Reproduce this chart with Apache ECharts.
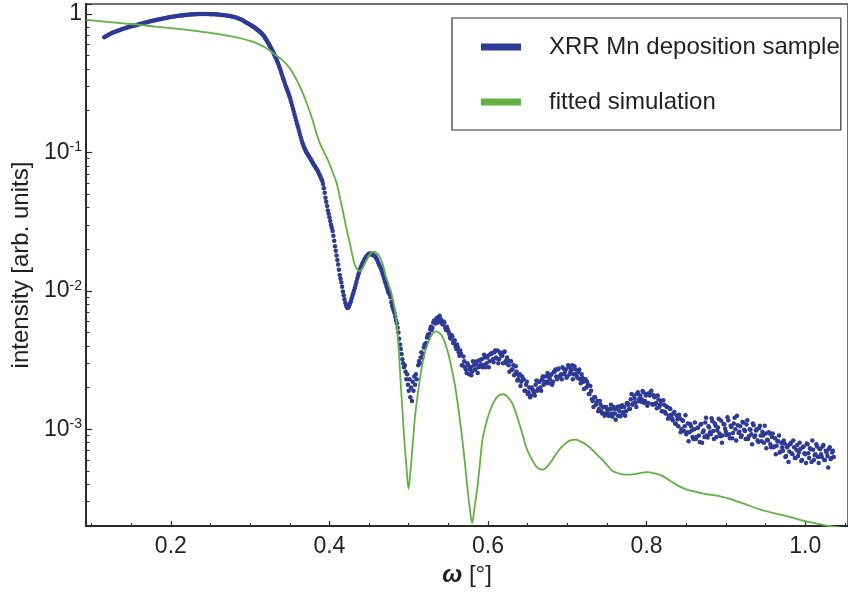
<!DOCTYPE html>
<html>
<head>
<meta charset="utf-8">
<script src="https://cdn.jsdelivr.net/npm/echarts@6/dist/echarts.min.js"></script>
<style>html,body{margin:0;padding:0;background:#fff}#c{width:848px;height:592px}</style>
</head>
<body>
<div id="c"></div>
<script>
// measured XRR scan: [omega (deg), intensity (arb. units)]
const xrrScan = [
[0.116,0.68],[0.118,0.69],[0.120,0.70],[0.122,0.71],[0.124,0.72],[0.126,0.73],[0.128,0.737],[0.130,0.745],[0.132,0.752],[0.134,0.76],
[0.136,0.767],[0.138,0.774],[0.140,0.781],[0.142,0.788],[0.144,0.795],[0.146,0.802],[0.148,0.809],[0.150,0.815],[0.152,0.82],[0.154,0.825],
[0.156,0.830],[0.158,0.836],[0.160,0.842],[0.162,0.848],[0.164,0.854],[0.166,0.860],[0.168,0.866],[0.170,0.872],[0.172,0.878],[0.174,0.884],
[0.176,0.890],[0.178,0.896],[0.180,0.901],[0.182,0.906],[0.184,0.911],[0.186,0.916],[0.188,0.921],[0.190,0.926],[0.192,0.931],[0.194,0.936],
[0.196,0.941],[0.198,0.946],[0.200,0.950],[0.202,0.954],[0.204,0.958],[0.206,0.962],[0.208,0.966],[0.210,0.970],[0.212,0.973],[0.214,0.976],
[0.216,0.979],[0.218,0.982],[0.220,0.985],[0.222,0.988],[0.224,0.990],[0.226,0.992],[0.228,0.994],[0.230,0.996],[0.232,0.997],[0.234,0.998],
[0.236,0.999],[0.238,1.0],[0.240,1.0],[0.242,1.0],[0.244,1.0],[0.246,0.999],[0.248,0.998],[0.250,0.997],[0.252,0.996],[0.254,0.995],
[0.256,0.993],[0.258,0.991],[0.260,0.989],[0.262,0.987],[0.264,0.984],[0.266,0.981],[0.268,0.978],[0.270,0.976],[0.272,0.972],[0.274,0.967],
[0.276,0.962],[0.278,0.956],[0.280,0.949],[0.282,0.942],[0.284,0.934],[0.286,0.925],[0.288,0.914],[0.290,0.903],[0.292,0.890],[0.294,0.875],
[0.296,0.862],[0.298,0.848],[0.300,0.835],[0.302,0.822],[0.304,0.808],[0.306,0.794],[0.308,0.778],[0.310,0.762],[0.312,0.746],[0.314,0.728],
[0.316,0.708],[0.318,0.684],[0.320,0.657],[0.322,0.628],[0.324,0.600],[0.326,0.572],[0.328,0.545],[0.330,0.515],[0.332,0.487],[0.334,0.458],
[0.336,0.428],[0.338,0.397],[0.340,0.365],[0.342,0.338],[0.344,0.312],[0.346,0.290],[0.348,0.270],[0.350,0.250],[0.352,0.228],[0.354,0.207],
[0.356,0.188],[0.357,0.179],[0.358,0.170],[0.359,0.162],[0.360,0.155],[0.361,0.148],[0.362,0.141],[0.363,0.134],[0.364,0.128],[0.365,0.122],
[0.366,0.117],[0.367,0.113],[0.368,0.109],[0.369,0.106],[0.370,0.103],[0.371,0.100],[0.372,0.098],[0.373,0.096],[0.374,0.094],[0.375,0.092],
[0.376,0.090],[0.377,0.088],[0.378,0.086],[0.379,0.084],[0.380,0.082],[0.381,0.0805],[0.382,0.079],[0.383,0.077],[0.384,0.0755],[0.385,0.074],
[0.386,0.072],[0.387,0.070],[0.388,0.068],[0.389,0.066],[0.390,0.064],[0.391,0.062],[0.392,0.059],[0.393,0.055],[0.394,0.051],[0.395,0.047],
[0.396,0.044],[0.397,0.041],[0.398,0.038],[0.399,0.036],[0.400,0.034],[0.401,0.032],[0.402,0.030],[0.403,0.0285],[0.404,0.027],[0.405,0.025],
[0.406,0.023],[0.407,0.021],[0.408,0.0195],[0.409,0.018],[0.410,0.0167],[0.411,0.0155],[0.412,0.0142],[0.413,0.013],[0.414,0.0122],[0.415,0.0115],
[0.416,0.0107],[0.417,0.0099],[0.418,0.0093],[0.419,0.0087],[0.420,0.0082],[0.421,0.0079],[0.422,0.0076],[0.423,0.0075],[0.424,0.0076],[0.425,0.0078],
[0.426,0.0081],[0.427,0.0084],[0.428,0.0088],[0.429,0.0092],[0.430,0.0096],[0.431,0.0100],[0.432,0.0105],[0.433,0.0110],[0.434,0.0116],[0.435,0.0122],
[0.436,0.0128],[0.437,0.0134],[0.438,0.0140],[0.439,0.0145],[0.440,0.0150],[0.441,0.0155],[0.442,0.0159],[0.443,0.0163],[0.444,0.0167],[0.445,0.0171],
[0.446,0.0175],[0.447,0.0178],[0.448,0.0181],[0.449,0.0183],[0.450,0.0185],[0.451,0.0184],[0.452,0.0186],[0.453,0.0183],[0.454,0.0185],[0.455,0.0182],
[0.456,0.0180],[0.457,0.0179],[0.458,0.0176],[0.459,0.0172],[0.460,0.0168],[0.461,0.0163],[0.462,0.0158],[0.463,0.0153],[0.464,0.0149],[0.465,0.0145],
[0.466,0.0139],[0.467,0.0133],[0.468,0.0128],[0.469,0.0122],[0.470,0.0117],[0.471,0.0113],[0.472,0.0108],[0.473,0.0103],[0.474,0.0099],[0.475,0.0096],
[0.476,0.0094],[0.477,0.0090],[0.478,0.0083],[0.479,0.0078],[0.480,0.0075],[0.481,0.0072],[0.482,0.0069],[0.483,0.0065],[0.484,0.0061],[0.485,0.0058],
[0.486,0.0054],[0.487,0.0050],[0.488,0.0045],[0.489,0.0041],[0.490,0.0038],[0.491,0.0035],[0.492,0.0032],[0.493,0.0030],[0.494,0.0028],[0.495,0.0029],
[0.496,0.0026],[0.497,0.0023],[0.498,0.0025],[0.499,0.0021],[0.500,0.0019],[0.501,0.0023],[0.502,0.0017],[0.503,0.0020],[0.504,0.0016],[0.505,0.0022],
[0.506,0.0019],[0.507,0.0024],[0.508,0.0021],[0.509,0.0025],[0.510,0.0023],
[0.512,2.9e-3],[0.514,3.0e-3],[0.516,3.6e-3],[0.518,3.5e-3],[0.520,4.1e-3],[0.522,4.2e-3],[0.524,4.8e-3],[0.526,4.9e-3],[0.528,5.5e-3],[0.530,5.4e-3],
[0.532,6.1e-3],[0.534,5.8e-3],[0.536,6.4e-3],[0.538,6.0e-3],[0.540,6.3e-3],[0.542,5.8e-3],[0.544,6.0e-3],[0.546,5.4e-3],[0.548,5.5e-3],[0.550,5.1e-3],
[0.552,4.6e-3],[0.554,4.8e-3],[0.556,4.2e-3],[0.558,4.4e-3],[0.560,3.8e-3],[0.562,3.9e-3],[0.564,3.4e-3],[0.566,3.5e-3],[0.568,2.9e-3],[0.570,3.1e-3],
[0.572,2.7e-3],[0.574,3.0e-3],[0.576,2.5e-3],[0.578,2.8e-3],[0.580,2.6e-3],[0.582,2.9e-3],[0.584,2.7e-3],[0.586,3.1e-3],[0.588,2.8e-3],[0.590,2.9e-3],
[0.592,3.2e-3],[0.594,2.9e-3],[0.596,3.3e-3],[0.598,3.0e-3],[0.600,3.4e-3],[0.602,3.1e-3],[0.604,3.5e-3],[0.606,3.2e-3],[0.608,3.6e-3],[0.610,3.3e-3],
[0.612,3.7e-3],[0.614,3.2e-3],[0.616,3.5e-3],[0.618,3.4e-3],[0.620,3.6e-3],[0.622,3.1e-3],[0.624,3.3e-3],[0.626,2.9e-3],[0.628,3.1e-3],[0.630,2.7e-3],
[0.632,2.9e-3],[0.634,2.5e-3],[0.636,2.6e-3],[0.638,2.3e-3],[0.640,2.5e-3],[0.642,2.2e-3],[0.644,2.3e-3],[0.646,1.9e-3],[0.648,2.1e-3],[0.650,1.8e-3],
[0.652,2.0e-3],[0.654,1.75e-3],[0.656,1.95e-3],[0.658,1.85e-3],[0.660,2.1e-3],[0.662,1.9e-3],[0.664,2.2e-3],[0.666,2.0e-3],[0.668,2.3e-3],[0.670,2.1e-3],
[0.672,2.4e-3],[0.674,2.2e-3],[0.676,2.4e-3],[0.678,2.3e-3],[0.680,2.5e-3],[0.682,2.2e-3],[0.684,2.6e-3],[0.686,2.4e-3],[0.688,2.7e-3],[0.690,2.4e-3],
[0.692,2.5e-3],[0.694,2.8e-3],[0.696,2.5e-3],[0.698,2.7e-3],[0.700,2.4e-3],[0.702,2.8e-3],[0.704,2.6e-3],[0.706,2.9e-3],[0.708,2.5e-3],[0.710,2.7e-3],
[0.712,2.4e-3],[0.714,2.6e-3],[0.716,2.3e-3],[0.718,2.5e-3],[0.720,2.2e-3],[0.722,2.3e-3],[0.724,2.0e-3],[0.726,2.1e-3],[0.728,1.8e-3],[0.730,1.9e-3],
[0.732,1.6e-3],[0.734,1.7e-3],[0.736,1.5e-3],[0.738,1.6e-3],[0.740,1.4e-3],[0.742,1.5e-3],[0.744,1.3e-3],[0.746,1.45e-3],[0.748,1.3e-3],[0.750,1.4e-3],
[0.752,1.25e-3],[0.754,1.4e-3],[0.756,1.3e-3],[0.758,1.45e-3],[0.760,1.3e-3],[0.762,1.4e-3],[0.764,1.25e-3],[0.766,1.35e-3],[0.768,1.45e-3],[0.770,1.3e-3],
[0.772,1.45e-3],[0.774,1.35e-3],[0.776,1.55e-3],[0.778,1.4e-3],[0.780,1.65e-3],[0.782,1.5e-3],[0.784,1.75e-3],[0.786,1.55e-3],[0.788,1.8e-3],[0.790,1.6e-3],
[0.792,1.75e-3],[0.794,1.65e-3],[0.796,1.85e-3],[0.798,1.6e-3],[0.800,1.8e-3],[0.802,1.55e-3],[0.804,1.75e-3],[0.806,1.9e-3],[0.808,1.5e-3],[0.810,1.7e-3],
[0.812,1.55e-3],[0.814,1.75e-3],[0.816,1.45e-3],[0.818,1.6e-3],[0.820,1.35e-3],[0.822,1.5e-3],[0.824,1.3e-3],[0.826,1.45e-3],[0.828,1.25e-3],[0.830,1.4e-3],
[0.832,1.2e-3],[0.834,1.3e-3],[0.836,1.1e-3],[0.838,1.25e-3],[0.840,1.05e-3],[0.842,1.2e-3],[0.844,1.0e-3],[0.846,1.15e-3],[0.848,1.05e-3],[0.850,0.92e-3],
[0.852,1.1e-3],[0.854,0.95e-3],[0.856,1.05e-3],[0.858,0.88e-3],[0.860,1.0e-3],[0.862,0.85e-3],[0.864,1.02e-3],[0.866,0.9e-3],[0.868,1.08e-3],[0.870,0.8e-3],
[0.872,0.98e-3],[0.874,1.12e-3],[0.876,0.9e-3],[0.878,1.05e-3],[0.880,0.95e-3],[0.882,1.2e-3],[0.884,0.97e-3],[0.886,1.1e-3],[0.888,0.88e-3],[0.890,1.03e-3],
[0.892,0.93e-3],[0.894,1.15e-3],[0.896,0.9e-3],[0.898,1.08e-3],[0.900,0.96e-3],[0.902,1.22e-3],[0.904,0.92e-3],[0.906,1.06e-3],[0.908,0.86e-3],[0.910,1.1e-3],
[0.912,1.0e-3],[0.914,1.25e-3],[0.916,0.94e-3],[0.918,1.05e-3],[0.920,0.9e-3],[0.922,1.12e-3],[0.924,0.97e-3],[0.926,1.08e-3],[0.928,0.85e-3],[0.930,1.0e-3],
[0.932,0.92e-3],[0.934,1.1e-3],[0.936,0.88e-3],[0.938,0.98e-3],[0.940,0.83e-3],[0.942,1.02e-3],[0.944,0.9e-3],[0.946,0.96e-3],[0.948,0.8e-3],[0.950,0.93e-3],
[0.952,0.84e-3],[0.954,0.95e-3],[0.956,0.78e-3],[0.958,0.88e-3],[0.960,0.74e-3],[0.962,0.86e-3],[0.964,0.76e-3],[0.966,0.82e-3],[0.968,0.68e-3],[0.970,0.8e-3],
[0.972,0.7e-3],[0.974,0.79e-3],[0.976,0.64e-3],[0.978,0.76e-3],[0.980,0.69e-3],[0.982,0.8e-3],[0.984,0.66e-3],[0.986,0.74e-3],[0.988,0.62e-3],[0.990,0.77e-3],
[0.992,0.68e-3],[0.994,0.72e-3],[0.996,0.6e-3],[0.998,0.75e-3],[1.000,0.66e-3],[1.002,0.79e-3],[1.004,0.67e-3],[1.006,0.73e-3],[1.008,0.58e-3],[1.010,0.71e-3],
[1.012,0.65e-3],[1.014,0.78e-3],[1.016,0.63e-3],[1.018,0.72e-3],[1.020,0.66e-3],[1.022,0.75e-3],[1.024,0.6e-3],[1.026,0.7e-3],[1.028,0.64e-3],[1.030,0.72e-3],
[1.032,0.61e-3],[1.034,0.68e-3],[1.036,0.63e-3]
];

// interleaved scan points (half-step positions) of the same measurement
const xrrScanInterleaved = [
[0.301,0.828],[0.303,0.815],[0.305,0.801],[0.307,0.786],[0.309,0.770],[0.311,0.754],[0.313,0.737],[0.315,0.718],[0.317,0.696],[0.319,0.670],
[0.321,0.642],[0.323,0.614],[0.325,0.586],[0.327,0.558],[0.329,0.530],[0.331,0.501],[0.333,0.472],[0.335,0.443],[0.337,0.412],[0.339,0.381],
[0.341,0.351],[0.343,0.325],[0.345,0.301],[0.347,0.280],[0.349,0.260],[0.351,0.239],[0.353,0.217],[0.355,0.197],
[0.513,3.1e-3],[0.515,3.3e-3],[0.517,3.3e-3],[0.519,3.9e-3],[0.521,4.0e-3],[0.523,4.6e-3],[0.525,4.6e-3],[0.527,5.3e-3],[0.529,5.2e-3],[0.531,5.9e-3],
[0.533,6.0e-3],[0.535,6.3e-3],[0.537,5.9e-3],[0.539,6.6e-3],[0.541,6.1e-3],[0.543,5.7e-3],[0.545,5.9e-3],[0.547,5.2e-3],[0.549,5.3e-3],[0.551,4.9e-3],
[0.553,4.5e-3],[0.555,4.7e-3],[0.557,4.3e-3],[0.559,4.0e-3],[0.561,4.1e-3],[0.563,3.6e-3],
[0.565,3.7e-3],[0.567,2.9e-3],[0.569,3.35e-3],[0.571,2.8e-3],[0.573,2.55e-3],[0.575,2.9e-3],[0.577,2.7e-3],[0.579,2.45e-3],[0.581,3.1e-3],[0.583,2.7e-3],
[0.585,2.95e-3],[0.587,2.55e-3],[0.589,3.15e-3],[0.591,2.95e-3],[0.593,2.8e-3],[0.595,3.45e-3],[0.597,2.8e-3],[0.599,3.3e-3],[0.601,2.8e-3],[0.603,3.5e-3],
[0.605,3.55e-3],[0.607,3.05e-3],[0.609,3.7e-3],[0.611,3.25e-3],[0.613,3.0e-3],[0.615,3.6e-3],[0.617,3.4e-3],[0.619,3.0e-3],[0.621,3.65e-3],[0.623,3.0e-3],
[0.625,3.15e-3],[0.627,2.6e-3],[0.629,3.1e-3],[0.631,2.7e-3],[0.633,2.45e-3],[0.635,2.85e-3],[0.637,2.25e-3],[0.639,2.45e-3],[0.641,2.05e-3],[0.643,2.4e-3],
[0.645,2.3e-3],[0.647,1.9e-3],[0.649,2.2e-3],[0.651,1.85e-3],[0.653,1.7e-3],[0.655,2.0e-3],[0.657,1.9e-3],[0.659,1.75e-3],[0.661,2.25e-3],[0.663,1.95e-3],
[0.665,2.2e-3],[0.667,1.9e-3],[0.669,2.4e-3],[0.671,2.2e-3],[0.673,2.15e-3],[0.675,2.55e-3],[0.677,2.15e-3],[0.679,2.45e-3],[0.681,2.1e-3],[0.683,2.6e-3],
[0.685,2.7e-3],[0.687,2.3e-3],[0.689,2.75e-3],[0.691,2.4e-3],[0.693,2.3e-3],[0.695,2.75e-3],[0.697,2.6e-3],[0.699,2.35e-3],[0.701,2.9e-3],[0.703,2.5e-3],
[0.705,2.7e-3],[0.707,2.3e-3],[0.709,2.85e-3],[0.711,2.5e-3],[0.713,2.35e-3],[0.715,2.7e-3],[0.717,2.15e-3],[0.719,2.35e-3],[0.721,1.95e-3],[0.723,2.3e-3],
[0.725,2.2e-3],[0.727,1.8e-3],[0.729,2.05e-3],[0.731,1.65e-3],[0.733,1.45e-3],[0.735,1.7e-3],[0.737,1.55e-3],[0.739,1.35e-3],[0.741,1.6e-3],[0.743,1.35e-3],
[0.745,1.45e-3],[0.747,1.25e-3],[0.749,1.45e-3],[0.751,1.32e-3],[0.753,1.25e-3],[0.755,1.5e-3],[0.757,1.23e-3],[0.759,1.4e-3],[0.761,1.17e-3],[0.763,1.45e-3],
[0.765,1.46e-3],[0.767,1.24e-3],[0.769,1.49e-3],[0.771,1.33e-3],[0.773,1.25e-3],[0.775,1.54e-3],[0.777,1.5e-3],[0.779,1.4e-3],[0.781,1.8e-3],[0.783,1.54e-3],
[0.785,1.66e-3],[0.787,1.45e-3],[0.789,1.85e-3],[0.791,1.67e-3],[0.793,1.58e-3],[0.795,1.89e-3],[0.797,1.55e-3],[0.799,1.75e-3],[0.801,1.48e-3],[0.803,1.82e-3],
[0.805,1.84e-3],[0.807,1.52e-3],[0.809,1.76e-3],[0.811,1.52e-3],[0.813,1.42e-3],[0.815,1.64e-3],[0.817,1.5e-3],[0.819,1.35e-3],[0.821,1.62e-3],[0.823,1.34e-3],
[0.825,1.46e-3],[0.827,1.19e-3],[0.829,1.42e-3],[0.831,1.27e-3],[0.833,1.16e-3],[0.835,1.33e-3],[0.837,1.09e-3],[0.839,1.18e-3],
[0.841,1.27e-3],[0.843,0.95e-3],[0.845,1.16e-3],[0.847,0.97e-3],[0.849,1.26e-3],[0.851,0.95e-3],[0.853,0.82e-3],[0.855,1.09e-3],[0.857,0.98e-3],[0.859,0.85e-3],
[0.861,1.12e-3],[0.863,0.88e-3],[0.865,1.03e-3],[0.867,0.81e-3],[0.869,1.09e-3],[0.871,0.95e-3],[0.873,0.88e-3],[0.875,1.21e-3],[0.877,0.87e-3],[0.879,1.03e-3],
[0.881,0.92e-3],[0.883,1.14e-3],[0.885,0.85e-3],[0.887,1.06e-3],[0.889,0.98e-3],[0.891,1.19e-3],[0.893,0.89e-3],[0.895,0.80e-3],[0.897,1.09e-3],[0.899,1.01e-3],
[0.901,0.91e-3],[0.903,1.16e-3],[0.905,0.86e-3],[0.907,1.04e-3],[0.909,0.94e-3],[0.911,1.21e-3],[0.913,0.83e-3],[0.915,1.07e-3],[0.917,0.96e-3],[0.919,0.88e-3],
[0.921,1.13e-3],[0.923,0.99e-3],[0.925,0.85e-3],[0.927,1.16e-3],[0.929,0.89e-3],[0.931,0.99e-3],[0.933,0.78e-3],[0.935,1.07e-3],[0.937,0.90e-3],[0.939,1.0e-3],
[0.941,0.81e-3],[0.943,1.06e-3],[0.945,0.82e-3],[0.947,0.90e-3],[0.949,1.06e-3],[0.951,0.73e-3],[0.953,0.83e-3],[0.955,0.93e-3],[0.957,0.74e-3],[0.959,0.93e-3],
[0.961,0.75e-3],[0.963,0.66e-3],[0.965,0.82e-3],[0.967,0.90e-3],[0.969,0.69e-3],[0.971,0.74e-3],[0.973,0.83e-3],[0.975,0.63e-3],[0.977,0.74e-3],[0.979,0.58e-3],
[0.981,0.78e-3],[0.983,0.67e-3],[0.985,0.83e-3],[0.987,0.62e-3],[0.989,0.71e-3],[0.991,0.64e-3],[0.993,0.80e-3],[0.995,0.59e-3],[0.997,0.74e-3],[0.999,0.67e-3],
[1.001,0.57e-3],[1.003,0.78e-3],[1.005,0.62e-3],[1.007,0.72e-3],[1.009,0.83e-3],[1.011,0.60e-3],[1.013,0.66e-3],[1.015,0.75e-3],[1.017,0.57e-3],[1.019,0.72e-3],
[1.021,0.63e-3],[1.023,0.77e-3],[1.025,0.60e-3],[1.027,0.68e-3],[1.029,0.53e-3],[1.031,0.74e-3],[1.033,0.62e-3],[1.035,0.70e-3]
];

// fitted simulation curve: [omega (deg), intensity]
const fitCurve = [
[0.093,0.905],[0.10,0.90],[0.12,0.875],[0.14,0.855],[0.16,0.835],[0.18,0.81],[0.20,0.79],[0.22,0.768],[0.24,0.742],[0.26,0.715],
[0.28,0.683],[0.29,0.662],[0.30,0.638],[0.31,0.608],[0.318,0.577],[0.324,0.548],[0.328,0.527],[0.332,0.505],[0.336,0.487],[0.34,0.468],
[0.345,0.44],[0.35,0.405],[0.355,0.365],[0.36,0.322],[0.365,0.28],[0.37,0.238],[0.375,0.198],[0.38,0.162],[0.3832,0.140],[0.386,0.125],
[0.3895,0.111],[0.393,0.101],[0.397,0.091],[0.40,0.083],[0.404,0.072],[0.4084,0.062],[0.412,0.051],[0.4168,0.038],[0.421,0.029],[0.4252,0.0228],
[0.4294,0.0176],[0.4314,0.0158],[0.434,0.0146],[0.4377,0.0139],[0.441,0.0143],[0.446,0.0163],[0.45,0.0180],[0.4535,0.0189],[0.4566,0.0192],[0.46,0.0187],
[0.463,0.0178],[0.466,0.0163],[0.469,0.0143],[0.4713,0.0126],[0.4745,0.0112],[0.4776,0.0099],[0.481,0.0082],[0.484,0.0064],[0.486,0.0049],[0.488,0.0033],
[0.490,0.0021],[0.492,0.0014],[0.4943,0.00086],[0.497,0.00055],[0.4998,0.00037],[0.5025,0.00052],[0.5049,0.00076],[0.508,0.00125],[0.511,0.00172],[0.5145,0.0024],
[0.5175,0.0030],[0.521,0.0037],[0.5258,0.0044],[0.530,0.0049],[0.5342,0.0051],[0.538,0.0050],[0.5425,0.00466],[0.5465,0.0041],[0.5509,0.00334],[0.555,0.0026],
[0.5593,0.00192],[0.5635,0.0013],[0.5676,0.00084],[0.571,0.00056],[0.574,0.00038],[0.577,0.00027],[0.580,0.00021],[0.583,0.00027],[0.5866,0.00038],[0.590,0.00058],
[0.593,0.00084],[0.597,0.00107],[0.6013,0.0013],[0.606,0.00152],[0.610,0.00167],[0.614,0.00176],[0.619,0.00179],[0.624,0.00173],[0.6306,0.00154],[0.637,0.00122],
[0.6432,0.00093],[0.649,0.00072],[0.6558,0.0006],[0.662,0.00053],[0.6692,0.00051],[0.675,0.00054],[0.681,0.0006],[0.688,0.00069],[0.6977,0.00079],[0.704,0.00083],
[0.7103,0.00084],[0.718,0.00081],[0.727,0.00075],[0.737,0.00066],[0.748,0.00057],[0.757,0.0005],[0.765,0.00048],[0.772,0.00047],[0.78,0.00047],[0.79,0.00048],
[0.80,0.00049],[0.81,0.00048],[0.82,0.00046],[0.828,0.00043],[0.84,0.00039],[0.85,0.000368],[0.861,0.000354],[0.875,0.00034],[0.89,0.00033],[0.903,0.000317],
[0.915,0.000300],[0.93,0.00028],[0.945,0.000261],[0.96,0.000248],[0.975,0.000237],[0.987,0.000227],[1.0,0.000217],[1.015,0.000208],[1.03,0.0002],[1.04,0.000196],
[1.054,0.00019]
];

const seriesNames = ['XRR Mn deposition sample', 'fitted simulation'];
const xTitle = '{w|ω} [°]';
const yTitle = 'intensity [arb. units]';

const FONT = '"Liberation Sans", Arial, Helvetica, sans-serif';
const TXT = '#231f20';
const BLUE = '#2e3a95';
const GREEN = '#63b043';

const chart = echarts.init(document.getElementById('c'), null, {renderer: 'canvas'});
chart.setOption({
  animation: false,
  backgroundColor: '#fff',
  textStyle: {fontFamily: FONT, color: TXT},
  grid: {left: 86, top: 4, right: -2, bottom: 66, show: true, borderColor: '#444', borderWidth: 1.5, containLabel: false},
  legend: {
    orient: 'vertical', left: 452, top: 18,
    padding: [17, 1, 16, 29], itemGap: 31, itemWidth: 40, itemHeight: 7,
    borderColor: '#333', borderWidth: 1.2, backgroundColor: '#fff',
    textStyle: {fontSize: 24, color: TXT, fontFamily: FONT, padding: [0, 0, 0, 23]},
    data: [{name: seriesNames[0], icon: 'rect'}, {name: seriesNames[1], icon: 'rect'}]
  },
  xAxis: {
    type: 'value', min: 0.093, max: 1.054,
    name: xTitle, nameLocation: 'middle', nameGap: 35,
    nameTextStyle: {fontSize: 24, color: TXT, fontFamily: FONT, rich: {w: {fontStyle: 'italic', fontWeight: 'bold', fontSize: 24, fontFamily: FONT, color: TXT}}},
    axisLine: {lineStyle: {color: '#2b2b2b', width: 2}},
    axisTick: {inside: true, length: 5, lineStyle: {color: '#2b2b2b', width: 1.2}},
    minorTick: {show: true, splitNumber: 4, length: 3, lineStyle: {color: '#2b2b2b', width: 1}},
    axisLabel: {fontSize: 23, color: TXT, margin: 9, showMinLabel: false, showMaxLabel: false,
      formatter: v => v.toFixed(1)},
    splitLine: {show: false}
  },
  yAxis: {
    type: 'log', logBase: 10, min: 2e-4, max: 1.18,
    name: yTitle, nameLocation: 'middle', nameGap: 50, nameRotate: 90,
    nameTextStyle: {fontSize: 24, color: TXT, fontFamily: FONT},
    axisLine: {show: true, lineStyle: {color: '#2b2b2b', width: 2}},
    axisTick: {show: true, inside: true, length: 6, lineStyle: {color: '#2b2b2b', width: 1.2}},
    minorTick: {show: true, splitNumber: 9, length: 3.5, lineStyle: {color: '#2b2b2b', width: 1}},
    axisLabel: {
      fontSize: 23, color: TXT, margin: 4, showMinLabel: false, showMaxLabel: false,
      formatter: v => { const e = Math.round(Math.log10(v)); return e === 0 ? '1' : '10{s|' + e + '}'; },
      rich: {s: {fontSize: 14, color: TXT, fontFamily: FONT, verticalAlign: 'top', padding: [0, 0, 10, 0]}}
    },
    splitLine: {show: false}
  },
  series: [
    {
      name: seriesNames[0], type: 'scatter', data: xrrScan.concat(xrrScanInterleaved),
      symbol: 'circle', symbolSize: 4.5, itemStyle: {color: BLUE, opacity: 1},
      z: 2
    },
    {
      name: seriesNames[1], type: 'line', data: fitCurve,
      showSymbol: false, symbol: 'none', smooth: 0.3,
      itemStyle: {color: GREEN}, lineStyle: {color: GREEN, width: 1.8},
      z: 3
    }
  ]
});
</script>
</body>
</html>
